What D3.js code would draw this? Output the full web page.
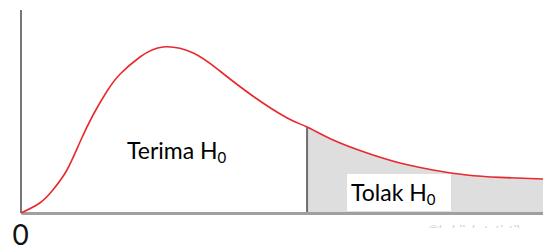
<!DOCTYPE html>
<html>
<head>
<meta charset="utf-8">
<script src="https://cdn.jsdelivr.net/npm/d3@7"></script>
<style>
  html, body { margin: 0; padding: 0; background: #fff; }
  svg { display: block; }
</style>
</head>
<body>
<div id="grafico"></div>
<script>
// Density curve (x in arbitrary units, y relative height)
const xs = [0, 0.36, 0.61, 0.88, 1.13, 1.38, 1.65, 1.9, 2.28, 2.72, 3.3, 3.81, 4.44, 5.1, 5.48, 5.98, 6.63, 7.26, 7.89, 8.54, 9.18, 10];
const ys = [0, 0.05, 0.115, 0.215, 0.355, 0.49, 0.61, 0.695, 0.78, 0.83, 0.8, 0.71, 0.585, 0.475, 0.43, 0.365, 0.3, 0.25, 0.215, 0.19, 0.178, 0.17];
const critical = 5.48;
const tickValues = [0];
const acceptLabel = "Terima H";
const rejectLabel = "Tolak H";
const subLabel = "0";

const width = 543;
const height = 250;
const marginLeft = 21;
const marginBottom = 37;
const marginTop = 13;

const data = xs.map((x, i) => ({ x, y: ys[i] }));

const x = d3.scaleLinear().domain([0, 10]).range([marginLeft, width]);
const y = d3.scaleLinear().domain([0, 1]).range([height - marginBottom, marginTop]);

const svg = d3.select("#grafico")
  .append("svg")
  .attr("width", width)
  .attr("height", height)
  .attr("style", "font-family: Lato, 'Open Sans', sans-serif;");

const line = d3.line().x(d => x(d.x)).y(d => y(d.y)).curve(d3.curveNatural);
const area = d3.area().x(d => x(d.x)).y0(y(0)).y1(d => y(d.y)).curve(d3.curveNatural);

// rejection region
svg.append("path")
  .datum(data.filter(d => d.x >= critical))
  .attr("fill", "#dedede")
  .attr("d", area);

// critical value line
const critY = ys[xs.indexOf(critical)];
svg.append("line")
  .attr("x1", x(critical)).attr("x2", x(critical))
  .attr("y1", y(critY)).attr("y2", y(0))
  .attr("stroke", "#6e6e6e")
  .attr("stroke-width", 2);

// y axis (just a line)
svg.append("line")
  .attr("x1", x(0)).attr("x2", x(0))
  .attr("y1", 10).attr("y2", y(0))
  .attr("stroke", "#777")
  .attr("stroke-width", 2);

// x axis
const gx = svg.append("g")
  .attr("transform", `translate(0,${y(0)})`)
  .call(d3.axisBottom(x).tickValues(tickValues).tickSize(0).tickPadding(12).tickFormat(d3.format("d")));
gx.select(".domain").attr("stroke", "#a0a0a0").attr("stroke-width", 3);
gx.selectAll("text")
  .attr("font-family", "Lato, 'Open Sans', sans-serif")
  .attr("font-size", 28)
  .attr("fill", "#111")
  .attr("x", -1)
  .attr("dy", "0.72em");

// density curve
svg.append("path")
  .datum(data)
  .attr("fill", "none")
  .attr("stroke", "#e8292e")
  .attr("stroke-width", 1.6)
  .attr("d", line);

// labels
function label(g, text, px, py) {
  const t = g.append("text")
    .attr("x", px).attr("y", py)
    .attr("font-size", 23)
    .attr("fill", "#000");
  t.append("tspan").text(text);
  t.append("tspan").attr("font-size", 15).attr("dy", 4).text(subLabel);
  return t;
}

label(svg, acceptLabel, 127, 159);

svg.append("rect")
  .attr("x", 347).attr("y", 174)
  .attr("width", 104).attr("height", 37)
  .attr("fill", "#fff");
label(svg, rejectLabel, 351, 201);

// faint watermark, cut off at the bottom
svg.append("clipPath").attr("id", "wm")
  .append("rect").attr("x", 0).attr("y", 0).attr("width", width).attr("height", 228);
svg.append("text")
  .attr("clip-path", "url(#wm)")
  .attr("x", 428).attr("y", 235)
  .attr("font-size", 13)
  .attr("fill", "#cfcfcf")
  .text("©kebijakstatistik");
</script>
</body>
</html>
